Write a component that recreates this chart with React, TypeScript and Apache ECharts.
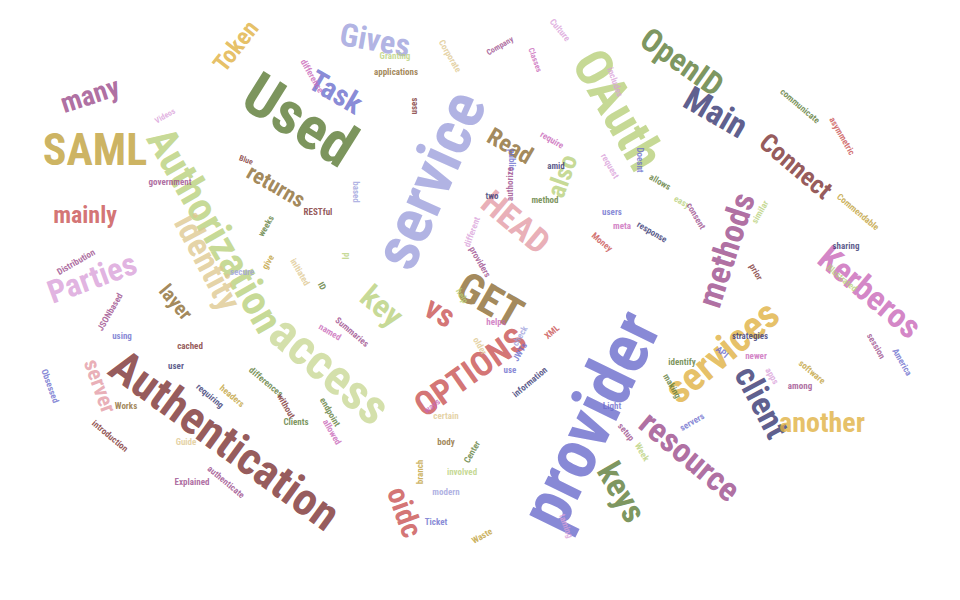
import { useEffect, useRef } from 'react';
import * as echarts from 'echarts';

// words, centre positions (px in a 960x600 frame), font sizes, rotation (deg, CCW +), colour
const words = [
  'provider', 'service', 'Authentication', 'Authorization', 'Used', 'access', 'OAuth', 'SAML',
  'identity', 'Parties', 'Gives', 'Task', 'Token', 'many', 'mainly', 'returns', 'layer', 'server',
  'key', 'vs', 'GET', 'HEAD', 'Read', 'also', 'OPTIONS', 'OpenID', 'Main', 'Connect', 'methods',
  'Kerberos', 'services', 'client', 'another', 'resource', 'keys', 'oidc',
  'difference', 'Granting', 'Corporate', 'Company', 'Classes', 'Culture', 'applications', 'uses',
  'includes', 'require', 'amid', 'request', 'public', 'authorize', 'two', 'method', 'Doesnt',
  'allows', 'easy', 'consent', 'users', 'meta', 'response', 'Money', 'communicate', 'asymmetric',
  'similar', 'Commendable', 'sharing', 'Illustrated', 'prior', 'America', 'session', 'strategies',
  'newer', 'apps', 'software', 'among', 'API', 'Blue', 'Videos', 'government', 'weeks', 'RESTful',
  'based', 'different', 'providers', 'help', 'helps', 'older', 'Distribution', 'give', 'secure',
  'initiated', 'ID', 'Id', 'JSONbased', 'using', 'named', 'Summaries', 'cached', 'user',
  'requiring', 'headers', 'differences', 'without', 'Clients', 'allowed', 'endpoint', 'Obsessed',
  'Works', 'introduction', 'Guide', 'authenticate', 'Explained', 'body', 'certain', 'Center',
  'branch', 'involved', 'modern', 'Ticket', 'Waste', 'Light', 'setup', 'Week', 'taming', 'making',
  'servers', 'identify', 'information', 'JWTs', 'check', 'use', 'XML', 'ways',
];
const xs = [
  590, 430, 225, 215, 300, 330, 618, 95, 208, 92, 375, 336, 236, 90, 85, 276, 176, 100,
  382, 440, 490, 516, 510, 562, 470, 682, 716, 796, 726, 870, 722, 762, 822, 690, 622, 405,
  312, 395, 450, 500, 535, 560, 396, 414, 615, 552, 556, 610, 512, 510, 492, 545, 640, 660,
  682, 696, 612, 622, 652, 602, 800, 842, 760, 858, 846, 842, 756, 902, 876, 750, 756, 772,
  812, 800, 722, 246, 165, 170, 266, 318, 356, 472, 480, 462, 496, 480, 76, 268, 242, 300,
  322, 346, 110, 122, 330, 352, 190, 176, 210, 232, 266, 286, 296, 332, 330, 50, 126, 110,
  186, 226, 192, 446, 446, 472, 420, 462, 446, 436, 482, 612, 626, 642, 566, 672, 692, 682,
  530, 520, 520, 510, 552, 432,
];
const ys = [
  420, 180, 440, 230, 120, 370, 110, 150, 262, 278, 40, 92, 46, 95, 215, 186, 302, 386,
  306, 312, 300, 222, 146, 176, 372, 62, 112, 166, 250, 292, 352, 402, 422, 456, 492, 512,
  76, 56, 56, 46, 60, 30, 72, 106, 82, 140, 166, 166, 160, 184, 196, 200, 160, 182,
  202, 216, 212, 226, 232, 242, 106, 136, 212, 212, 246, 278, 272, 362, 346, 336, 356, 376,
  372, 386, 352, 160, 116, 182, 226, 212, 192, 232, 262, 296, 322, 346, 262, 262, 272, 272,
  286, 256, 312, 336, 332, 332, 346, 366, 396, 396, 382, 406, 422, 432, 412, 386, 406, 436,
  442, 482, 482, 442, 416, 452, 472, 472, 492, 522, 536, 406, 432, 452, 526, 386, 422, 362,
  382, 352, 336, 370, 332, 406,
];
const sizes = [
  70, 64, 46, 42, 60, 50, 52, 44, 34, 32, 32, 30, 24, 28, 24, 22, 20, 22,
  32, 32, 42, 34, 24, 26, 34, 32, 34, 26, 34, 34, 40, 34, 28, 34, 34, 30,
  9, 9, 9, 8, 8, 9, 9, 9, 9, 9, 9, 9, 9, 9, 9, 9, 9, 9,
  9, 9, 9, 9, 9, 9, 9, 9, 9, 9, 9, 9, 9, 9, 9, 9, 9, 9,
  9, 9, 9, 8, 8, 9, 9, 9, 9, 9, 9, 9, 9, 9, 9, 9, 9, 9,
  9, 9, 9, 9, 9, 9, 9, 9, 9, 9, 9, 9, 9, 9, 9, 9, 9, 9,
  9, 9, 9, 9, 9, 9, 9, 9, 9, 9, 9, 9, 9, 9, 9, 9, 9, 9,
  9, 9, 9, 9, 9, 9,
];
const angles = [
  64, 66, -36, -60, -32, -40, -60, 0, -62, 20, -10, -30, 52, 18, 0, -30, -50, -70,
  -40, -30, -30, -40, -30, 70, 35, -35, -30, -40, 72, -40, 40, -62, 0, -40, -60, -70,
  -60, 0, -60, 30, -70, -50, 0, 90, -70, -30, 0, -60, -90, 90, 0, 0, -90, -30,
  -30, -60, 0, 0, -30, -40, -40, -60, 60, -40, 0, -40, -60, -60, -60, 0, 0, -60,
  -40, 0, -40, -20, 30, 0, 60, 0, -90, 70, -60, -60, 0, -60, 30, 60, 0, -60,
  -60, 90, 60, 0, -30, -40, 0, 0, -40, -40, -40, -60, 0, -60, -60, -70, 0, -40,
  0, -40, 0, 0, 0, 60, 90, 0, 0, 0, 30, 0, -50, -60, -70, -60, 30, 0,
  40, 60, 60, 0, 40, 40,
];
const palette = ['#5b7a35', '#b8d07a', '#9da0dc', '#6a6ccc', '#7a2f30', '#e39aa5', '#c866b8',
  '#c0a038', '#dec890', '#343470', '#8b6a30', '#c85050', '#9a4a8a', '#d9a0d9', '#c9d896', '#e0b040'];
const colorIdx = [
  3, 2, 4, 1, 0, 14, 1, 7, 8, 13, 2, 3, 15, 12, 11, 10, 10, 5,
  1, 11, 10, 5, 10, 1, 11, 0, 9, 4, 12, 6, 15, 9, 15, 12, 0, 11,
  6, 1, 8, 12, 6, 13, 10, 4, 13, 6, 9, 13, 3, 12, 9, 0, 3, 0,
  1, 12, 3, 6, 9, 11, 0, 11, 1, 7, 9, 1, 4, 3, 12, 9, 6, 13,
  7, 12, 3, 4, 13, 12, 0, 4, 2, 13, 12, 1, 6, 8, 12, 7, 2, 8,
  0, 1, 12, 3, 6, 12, 4, 9, 9, 7, 0, 4, 0, 6, 0, 3, 10, 4,
  8, 12, 12, 10, 8, 0, 7, 1, 2, 3, 7, 3, 12, 1, 13, 0, 3, 0,
  9, 3, 2, 3, 11, 6,
];

export default function App() {
  const divRef = useRef<HTMLDivElement>(null);

  useEffect(() => {
    if (!divRef.current) return;
    const chart = echarts.init(divRef.current, undefined, { renderer: 'svg' });
    const data = words.map((w, i) => ({
      name: w,
      value: [xs[i], ys[i]],
      label: {
        fontSize: sizes[i],
        rotate: angles[i],
        color: palette[colorIdx[i]],
      },
    }));
    chart.setOption({
      animation: false,
      backgroundColor: '#ffffff',
      grid: { left: 0, right: 0, top: 0, bottom: 0 },
      xAxis: { type: 'value', min: 0, max: 960, show: false },
      yAxis: { type: 'value', min: 0, max: 600, inverse: true, show: false },
      series: [{
        type: 'scatter',
        symbolSize: 0,
        data,
        label: {
          show: true,
          position: 'inside',
          formatter: (p: any) => p.name,
          fontFamily: '"Liberation Sans Narrow", "Roboto Condensed", Roboto, sans-serif',
          fontWeight: 'bold',
        },
        emphasis: { disabled: true },
      }],
    });
    return () => chart.dispose();
  }, []);

  return (
    <div
      ref={divRef}
      style={{ position: 'absolute', left: 0, top: 0, width: '960px', height: '600px' }}
    />
  );
}
